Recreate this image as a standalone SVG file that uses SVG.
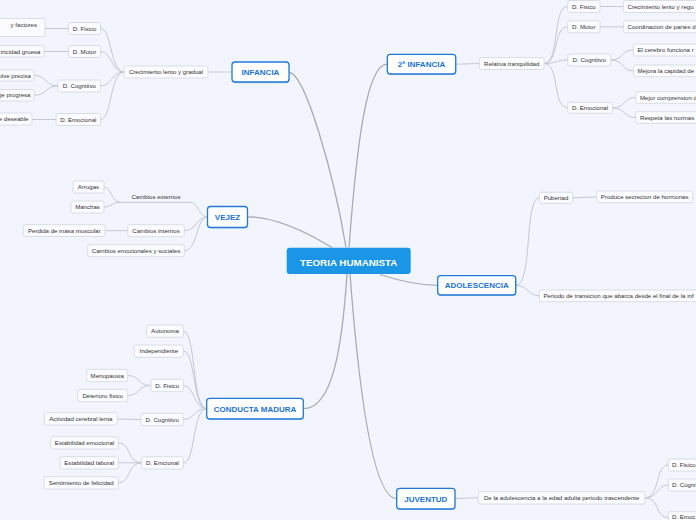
<svg xmlns="http://www.w3.org/2000/svg" width="696" height="520" viewBox="0 0 696 520">
<style>
.bg{fill:#f2f5fd}
.m rect.b{fill:#ffffff;stroke:#1f7ad8;stroke-width:1.3}
.m rect.sh{fill:#b8cdea}
.m text{font-family:"Liberation Sans",Arial,sans-serif;font-weight:bold;font-size:8px;fill:#1a73d9;text-anchor:middle}
.s rect{fill:#fbfcff;stroke:#d2d5dd;stroke-width:0.8}
.s text{font-family:"Liberation Sans",Arial,sans-serif;font-size:6.1px;fill:#333333;text-anchor:middle}
.s text.l{text-anchor:start}
.s text.r{text-anchor:end}
.c path{fill:none}
.c .main{stroke:#a9abb3;stroke-width:1.3}
.c .sub{stroke:#c4c7ce;stroke-width:1}
</style>
<rect class="bg" x="0" y="0" width="696" height="520"/>

<g id="connectors" class="c">
  <path class="main" d="M289,72.5 C305,72.5 334,175 346,247.5"/>
  <path class="main" d="M349,247.5 C357,140 367,64.2 387.3,64.2"/>
  <path class="main" d="M332,247.5 C300,228 270,216.8 247.5,216.8"/>
  <path class="main" d="M380,274.5 C400,281 420,285.3 437.7,285.3"/>
  <path class="main" d="M347,274 C342,350 332,408.7 303.3,408.7"/>
  <path class="main" d="M350,274 C358,380 372,498.7 396.7,498.7"/>
  <path class="sub" d="M208,72 L232,72"/>
  <path class="sub" d="M124,72 C110,72 112,28.5 100.5,28.5"/>
  <path class="sub" d="M124,72 C111,72 112,51.5 100.5,51.5"/>
  <path class="sub" d="M124,72 C111,72 112,86 100.5,86"/>
  <path class="sub" d="M124,72 C110,72 112,119.5 100.5,119.5"/>
  <path class="sub" d="M68.5,28.5 L45,28.5"/>
  <path class="sub" d="M68.5,51.5 L44,51.5"/>
  <path class="sub" d="M58,86 C45,86 47,75.5 34,75.5"/>
  <path class="sub" d="M58,86 C45,86 47,95.3 34,95.3"/>
  <path class="sub" d="M56,119.5 L32,119.5"/>
  <path class="sub" d="M104,187 C111,187 112,202.3 120,202.3"/>
  <path class="sub" d="M104,207 C111,207 112,202.3 120,202.3"/>
  <path class="sub" d="M117,202.3 H190 C198,202.3 199,216.8 207.5,216.8"/>
  <path class="sub" d="M184.3,230.7 C196,230.7 197,216.8 207.5,216.8"/>
  <path class="sub" d="M184.3,250.7 C198,250.7 196,216.8 207.5,216.8"/>
  <path class="sub" d="M105,230.7 L127.7,230.7"/>
  <path class="sub" d="M206.7,408.7 C192,408.7 196,331.2 183.3,331.2"/>
  <path class="sub" d="M206.7,408.7 C192,408.7 196,351.2 183.3,351.2"/>
  <path class="sub" d="M206.7,408.7 C193,408.7 195,385.5 183.3,385.5"/>
  <path class="sub" d="M206.7,408.7 C193,408.7 195,419.5 183.3,419.5"/>
  <path class="sub" d="M206.7,408.7 C192,408.7 196,462.8 183.3,462.8"/>
  <path class="sub" d="M151,385.5 C137,385.5 140,375.5 127.7,375.5"/>
  <path class="sub" d="M151,385.5 C137,385.5 140,395.5 127.7,395.5"/>
  <path class="sub" d="M141,419.5 L117.3,419"/>
  <path class="sub" d="M141.7,462.8 C127,462.8 131,442.8 118.3,442.8"/>
  <path class="sub" d="M141.7,462.8 L118.3,462.8"/>
  <path class="sub" d="M141.7,462.8 C127,462.8 131,482.8 118.3,482.8"/>
  <path class="sub" d="M455.7,64.2 L479.3,63.5"/>
  <path class="sub" d="M544,63.5 C560,63.5 552,6.5 567.7,6.5"/>
  <path class="sub" d="M544,63.5 C559,63.5 553,26.8 567.7,26.8"/>
  <path class="sub" d="M544,63.5 C556,63.5 556,60 567.7,60"/>
  <path class="sub" d="M544,63.5 C560,63.5 552,107.8 567.7,107.8"/>
  <path class="sub" d="M600,6.5 L623.3,6.5"/>
  <path class="sub" d="M600,26.8 L623.3,26.8"/>
  <path class="sub" d="M610.7,60 C624,60 621,50 633.3,50"/>
  <path class="sub" d="M610.7,60 C624,60 621,70.8 633.3,70.8"/>
  <path class="sub" d="M612.3,107.8 C626,107.8 623,97.5 635.7,97.5"/>
  <path class="sub" d="M612.3,107.8 C626,107.8 623,117.5 635.7,117.5"/>
  <path class="sub" d="M515.7,285.3 C533,285.3 524,197.8 539.3,197.8"/>
  <path class="sub" d="M515.7,285.3 C528,285.3 528,295.8 539.3,295.8"/>
  <path class="sub" d="M572.7,197.8 L596.7,197"/>
  <path class="sub" d="M455,498.5 L478.3,497.8"/>
  <path class="sub" d="M645,497.8 C660,497.8 655,465 668.3,465"/>
  <path class="sub" d="M645,497.8 C659,497.8 656,485 668.3,485"/>
  <path class="sub" d="M645,497.8 C660,497.8 655,517.7 668.3,517.7"/>
</g>

<g id="center">
  <rect x="286.7" y="247.7" width="124" height="26.3" rx="3" fill="#1b96e6"/>
  <text x="348.7" y="265.6" font-family="Liberation Sans, Arial, sans-serif" font-weight="bold" font-size="9.8" fill="#ffffff" text-anchor="middle">TEORIA HUMANISTA</text>
</g>

<g id="infancia" class="m"><rect class="sh" x="232.5" y="62.8" width="57" height="20.5" rx="3"/><rect class="b" x="232" y="62" width="57" height="20" rx="3"/><text x="260.5" y="75.2">INFANCIA</text></g>
<g id="infancia2" class="m"><rect class="sh" x="387.8" y="55" width="68.4" height="19.7" rx="3"/><rect class="b" x="387.3" y="54.3" width="68.4" height="19.7" rx="3"/><text x="421.5" y="67">2º INFANCIA</text></g>
<g id="vejez" class="m"><rect class="sh" x="208" y="207.2" width="40" height="21" rx="3"/><rect class="b" x="207.5" y="206.5" width="40" height="21" rx="3"/><text x="227.5" y="219.8">VEJEZ</text></g>
<g id="adolescencia" class="m"><rect class="sh" x="438.2" y="276.4" width="78" height="19.3" rx="3"/><rect class="b" x="437.7" y="275.7" width="78" height="19.3" rx="3"/><text x="476.7" y="288.2">ADOLESCENCIA</text></g>
<g id="conducta" class="m"><rect class="sh" x="207.2" y="399" width="96.6" height="20.7" rx="3"/><rect class="b" x="206.7" y="398.3" width="96.6" height="20.7" rx="3"/><text x="255" y="411.5">CONDUCTA MADURA</text></g>
<g id="juventud" class="m"><rect class="sh" x="397.2" y="489" width="58.3" height="20.7" rx="3"/><rect class="b" x="396.7" y="488.3" width="58.3" height="20.7" rx="3"/><text x="425.8" y="501.5">JUVENTUD</text></g>

<g id="inf-crec" class="s"><rect x="124" y="66" width="84" height="12" rx="2"/><text x="166" y="74.2">Crecimiento lento y gradual</text></g>
<g id="inf-fisico" class="s"><rect x="68.5" y="22.5" width="32" height="12" rx="2"/><text x="84.5" y="30.7">D. Fisico</text></g>
<g id="inf-motor" class="s"><rect x="68.5" y="45.5" width="32" height="12" rx="2"/><text x="84.5" y="53.7">D. Motor</text></g>
<g id="inf-cog" class="s"><rect x="58" y="80" width="42.5" height="12" rx="2"/><text x="79.3" y="88.2">D. Cognitivo</text></g>
<g id="inf-emo" class="s"><rect x="56" y="113.5" width="44.5" height="12" rx="2"/><text x="78.3" y="121.7">D. Emocional</text></g>
<g id="inf-fact" class="s"><rect x="-4" y="18.5" width="49" height="18" rx="2"/><text class="r" x="37" y="27.2">y factores</text></g>
<g id="inf-gruesa" class="s"><rect x="-4" y="45.5" width="48" height="11.5" rx="2"/><text class="r" x="40.5" y="53.5">tricidad gruesa</text></g>
<g id="inf-precisa" class="s"><rect x="-4" y="70" width="38" height="11" rx="2"/><text class="r" x="31" y="77.6">olve precisa</text></g>
<g id="inf-progresa" class="s"><rect x="-4" y="89.5" width="38" height="11.5" rx="2"/><text class="r" x="30.5" y="97.4">je progresa</text></g>
<g id="inf-deseable" class="s"><rect x="-4" y="113" width="36" height="12" rx="2"/><text class="r" x="28.5" y="121.3">e deseable</text></g>

<g id="vej-ext" class="s"><text x="156" y="199">Cambios externos</text></g>
<g id="vej-arrugas" class="s"><rect x="73" y="181" width="31" height="12" rx="2"/><text x="88.5" y="189.2">Arrugas</text></g>
<g id="vej-manchas" class="s"><rect x="71" y="201" width="33" height="12" rx="2"/><text x="87.5" y="209.2">Manchas</text></g>
<g id="vej-int" class="s"><rect x="127.7" y="224.7" width="56.6" height="12" rx="2"/><text x="156" y="232.9">Cambios internos</text></g>
<g id="vej-masa" class="s"><rect x="23.3" y="224.7" width="81.7" height="11.8" rx="2"/><text x="64.2" y="232.8">Perdida de masa muscular</text></g>
<g id="vej-emo" class="s"><rect x="87.7" y="244.7" width="96.6" height="12" rx="2"/><text x="136" y="252.9">Cambios emocionales y sociales</text></g>

<g id="cm-auto" class="s"><rect x="146.7" y="325" width="36.6" height="12.3" rx="2"/><text x="165" y="333.3">Autonoma</text></g>
<g id="cm-indep" class="s"><rect x="134.3" y="345" width="49" height="12.3" rx="2"/><text x="158.8" y="353.3">Independiente</text></g>
<g id="cm-fisico" class="s"><rect x="151" y="379.3" width="32.3" height="12.4" rx="2"/><text x="167.2" y="387.7">D. Fisico</text></g>
<g id="cm-meno" class="s"><rect x="86.7" y="369.3" width="41" height="12.4" rx="2"/><text x="107.2" y="377.7">Menopausia</text></g>
<g id="cm-deter" class="s"><rect x="77.7" y="389.3" width="50" height="12.4" rx="2"/><text x="102.7" y="397.7">Deterioro fisico</text></g>
<g id="cm-cog" class="s"><rect x="141" y="413.3" width="42.3" height="12.4" rx="2"/><text x="162.2" y="421.7">D. Cognitivo</text></g>
<g id="cm-activ" class="s"><rect x="44.3" y="412.7" width="73" height="12.3" rx="2"/><text x="80.8" y="421">Actividad cerebral lenta</text></g>
<g id="cm-emo" class="s"><rect x="141.7" y="456.7" width="41.6" height="12.3" rx="2"/><text x="162.5" y="465">D. Emcional</text></g>
<g id="cm-estemo" class="s"><rect x="50.7" y="436.7" width="67.6" height="12.3" rx="2"/><text x="84.5" y="445">Estabilidad emocional</text></g>
<g id="cm-estlab" class="s"><rect x="60" y="456.7" width="58.3" height="12.3" rx="2"/><text x="89.2" y="465">Estabilidad laboral</text></g>
<g id="cm-felic" class="s"><rect x="44" y="476.7" width="74.3" height="12.3" rx="2"/><text x="81.2" y="485">Sentimiento de felicidad</text></g>

<g id="i2-relat" class="s"><rect x="479.3" y="57.5" width="64.7" height="12" rx="2"/><text x="511.7" y="65.7">Relativa tranquilidad</text></g>
<g id="i2-fisico" class="s"><rect x="567.7" y="0.5" width="32.3" height="12" rx="2"/><text x="583.8" y="8.7">D. Fisico</text></g>
<g id="i2-crec" class="s"><rect x="623.3" y="0.5" width="80" height="12" rx="2"/><text class="l" x="627.5" y="8.7">Crecimiento lento y regu</text></g>
<g id="i2-motor" class="s"><rect x="567.7" y="20.8" width="32.3" height="12" rx="2"/><text x="583.8" y="29">D. Motor</text></g>
<g id="i2-coord" class="s"><rect x="623.3" y="20.8" width="80" height="12" rx="2"/><text class="l" x="627.5" y="29">Coordinacion de partes d</text></g>
<g id="i2-cog" class="s"><rect x="567.7" y="54" width="43" height="12" rx="2"/><text x="589.2" y="62.2">D. Cognitivo</text></g>
<g id="i2-cerebro" class="s"><rect x="633.3" y="44" width="70" height="12" rx="2"/><text class="l" x="637.5" y="52.2">El cerebro funciona r</text></g>
<g id="i2-mejora" class="s"><rect x="633.3" y="65" width="70" height="11.7" rx="2"/><text class="l" x="637.5" y="73">Mejora la capidad de</text></g>
<g id="i2-emo" class="s"><rect x="567.7" y="102.3" width="44.6" height="11" rx="2"/><text x="590" y="110">D. Emocional</text></g>
<g id="i2-compr" class="s"><rect x="635.7" y="91.7" width="70" height="11.6" rx="2"/><text class="l" x="640" y="99.7">Mejor comprension d</text></g>
<g id="i2-normas" class="s"><rect x="635.7" y="111.7" width="70" height="11.6" rx="2"/><text class="l" x="640" y="119.7">Respeta las normas</text></g>

<g id="ad-pub" class="s"><rect x="539.3" y="192.3" width="33.4" height="11" rx="2"/><text x="556" y="200.1">Pubertad</text></g>
<g id="ad-horm" class="s"><rect x="596.7" y="191" width="96" height="11.7" rx="2"/><text x="644.7" y="199">Produce secrecion de hormonas</text></g>
<g id="ad-periodo" class="s"><rect x="539.3" y="290" width="170" height="11.7" rx="2"/><text class="l" x="543.5" y="298">Periodo de transicion que abarca desde el final de la inf</text></g>

<g id="ju-trasc" class="s"><rect x="478.3" y="491.7" width="166.7" height="12.3" rx="2"/><text x="561.7" y="500">De la adolescencia a la edad adulta periodo trascendente</text></g>
<g id="ju-fisico" class="s"><rect x="668.3" y="459" width="40" height="12" rx="2"/><text class="l" x="672" y="467.2">D. Fisico</text></g>
<g id="ju-cog" class="s"><rect x="668.3" y="479" width="40" height="12" rx="2"/><text class="l" x="672" y="487.2">D. Cogni</text></g>
<g id="ju-emo" class="s"><rect x="668.3" y="511.7" width="40" height="12" rx="2"/><text class="l" x="672" y="519">D. Emoc</text></g>
</svg>
